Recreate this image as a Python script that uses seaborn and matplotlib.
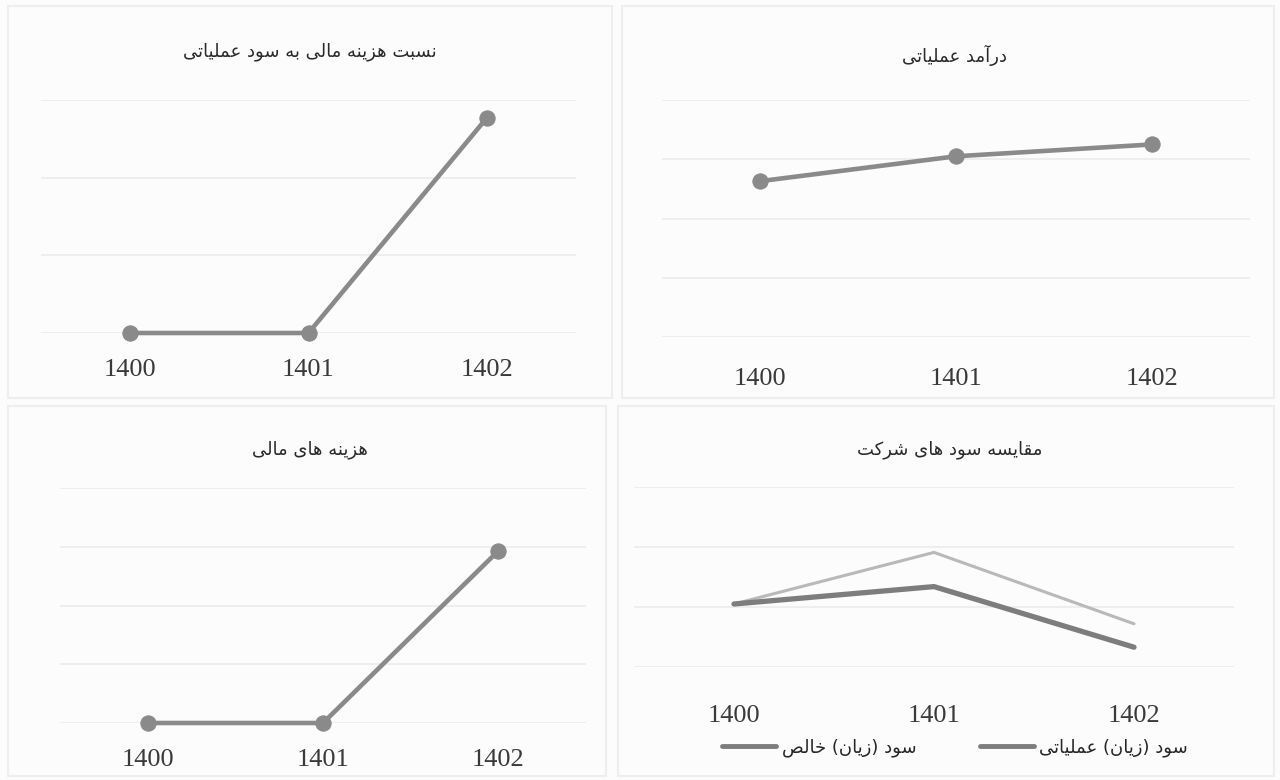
import pandas as pd
import seaborn as sns
import matplotlib.pyplot as plt
from matplotlib.patches import Rectangle

years = ['1400', '1401', '1402']
ratio_vals = [0, 0, 2.77]          # نسبت هزینه مالی به سود عملیاتی
revenue_vals = [2.63, 3.05, 3.25]  # درآمد عملیاتی
fincost_vals = [0, 0, 2.93]        # هزینه های مالی
net_profit = [1.05, 1.91, 0.72]    # سود (زیان) خالص
op_profit = [1.05, 1.34, 0.33]     # سود (زیان) عملیاتی

title_ratio = 'نسبت هزینه مالی به سود عملیاتی'
title_revenue = 'درآمد عملیاتی'
title_fincost = 'هزینه های مالی'
title_profit = 'مقایسه سود های شرکت'
label_net = 'سود (زیان) خالص'
label_op = 'سود (زیان) عملیاتی'

# presentation forms (isolated, final, initial, medial) so persian letters join
forms = {
    'ا': (0xFE8D, 0xFE8E), 'آ': (0xFE81, 0xFE82), 'ب': (0xFE8F, 0xFE90, 0xFE91, 0xFE92),
    'ت': (0xFE95, 0xFE96, 0xFE97, 0xFE98), 'خ': (0xFEA5, 0xFEA6, 0xFEA7, 0xFEA8),
    'د': (0xFEA9, 0xFEAA), 'ر': (0xFEAD, 0xFEAE), 'ز': (0xFEAF, 0xFEB0),
    'س': (0xFEB1, 0xFEB2, 0xFEB3, 0xFEB4), 'ش': (0xFEB5, 0xFEB6, 0xFEB7, 0xFEB8),
    'ص': (0xFEB9, 0xFEBA, 0xFEBB, 0xFEBC), 'ع': (0xFEC9, 0xFECA, 0xFECB, 0xFECC),
    'ق': (0xFED5, 0xFED6, 0xFED7, 0xFED8), 'ل': (0xFEDD, 0xFEDE, 0xFEDF, 0xFEE0),
    'م': (0xFEE1, 0xFEE2, 0xFEE3, 0xFEE4), 'ن': (0xFEE5, 0xFEE6, 0xFEE7, 0xFEE8),
    'ه': (0xFEE9, 0xFEEA, 0xFEEB, 0xFEEC), 'و': (0xFEED, 0xFEEE),
    'ی': (0xFBFC, 0xFBFD, 0xFBFE, 0xFBFF), 'ک': (0xFB8E, 0xFB8F, 0xFB90, 0xFB91),
}
right_join = set('اآدذرزژو')


def fa(text):
    out = []
    for i, c in enumerate(text):
        if c not in forms:
            out.append(c)
            continue
        prev = text[i - 1] if i > 0 else ''
        nxt = text[i + 1] if i + 1 < len(text) else ''
        jp = prev in forms and prev not in right_join
        jn = c not in right_join and nxt in forms
        f = forms[c]
        if len(f) == 2:
            f = (f[0], f[1], f[0], f[1])
        if jp and jn:
            g = f[3]
        elif jp:
            g = f[1]
        elif jn:
            g = f[2]
        else:
            g = f[0]
        out.append(chr(g))
    return ''.join(reversed(out)).translate(str.maketrans('()', ')('))


sns.set_theme(style='white')
plt.rcParams['font.family'] = ['DejaVu Sans']

W, H = 1280, 780
fig = plt.figure(figsize=(12.8, 7.8), dpi=100, facecolor='#fcfcfc')


def px_axes(x0, x1, ytop, ybot):
    return fig.add_axes([x0 / W, 1 - ybot / H, (x1 - x0) / W, (ybot - ytop) / H])


def style(ax, ymax, pad):
    ax.set_facecolor('none')
    ax.set_xlim(-0.5, 2.5)
    ax.set_ylim(0, ymax)
    ax.set_yticks(range(ymax + 1))
    ax.set_yticklabels([])
    ax.grid(axis='y', color='#ececec', linewidth=1.2)
    ax.tick_params(axis='both', length=0, pad=pad)
    for lbl in ax.get_xticklabels():
        lbl.set_fontfamily('Liberation Serif')
        lbl.set_fontsize(19)
        lbl.set_color('#3a3a3a')
    ax.set_xlabel('')
    ax.set_ylabel('')
    sns.despine(ax=ax, left=True, bottom=True)
    for ln in ax.lines:
        ln.set_clip_on(False)


# faint panel borders, like the scanned chart boxes
for (x0, y0, x1, y1) in [(8, 6, 612, 398), (622, 6, 1274, 398),
                         (8, 406, 606, 776), (618, 406, 1274, 776)]:
    fig.add_artist(Rectangle((x0 / W, 1 - y1 / H), (x1 - x0) / W, (y1 - y0) / H,
                             transform=fig.transFigure, fill=False,
                             edgecolor='#eeeeee', linewidth=1.5))

line_kw = dict(marker='o', markersize=11, linewidth=3.3, color='#8a8a8a',
               markeredgecolor='#8a8a8a')

# top left
ax1 = px_axes(41, 576, 100, 333)
sns.lineplot(x=years, y=ratio_vals, ax=ax1, **line_kw)
style(ax1, 3, 19)

# top right
ax2 = px_axes(662, 1250, 100, 337)
sns.lineplot(x=years, y=revenue_vals, ax=ax2, **line_kw)
style(ax2, 4, 22)

# bottom left
ax3 = px_axes(60, 586, 488, 723)
sns.lineplot(x=years, y=fincost_vals, ax=ax3, **line_kw)
style(ax3, 4, 19)

# bottom right, two profit series
profit = pd.DataFrame({
    'year': years * 2,
    'value': net_profit + op_profit,
    'series': [fa(label_net)] * 3 + [fa(label_op)] * 3,
})
ax4 = px_axes(634, 1234, 487, 667)
sns.lineplot(data=profit, x='year', y='value', hue='series', ax=ax4,
             palette=['#b9b9b9', '#7d7d7d'], sort=False)
ax4.lines[0].set_linewidth(2.2)
ax4.lines[1].set_linewidth(3.8)
style(ax4, 3, 27)
ax4.legend_.remove()
leg = ax4.legend(handles=ax4.lines[:2], labels=[fa(label_net), fa(label_op)],
                 ncol=2, loc='center', bbox_to_anchor=(955 / W, 1 - 748 / H),
                 bbox_transform=fig.transFigure, frameon=False, fontsize=13,
                 handlelength=3.0, handletextpad=0.3, columnspacing=3.5)
for h in leg.legend_handles:
    h.set_color('#7d7d7d')
    h.set_linewidth(3.5)

# titles
for txt, x, y in [(title_ratio, 310, 52), (title_revenue, 955, 55),
                  (title_fincost, 310, 450), (title_profit, 950, 450)]:
    fig.text(x / W, 1 - y / H, fa(txt), ha='center', va='center',
             fontsize=13, color='#2a2a2a')

fig.savefig('out.png', dpi=100, facecolor=fig.get_facecolor())
